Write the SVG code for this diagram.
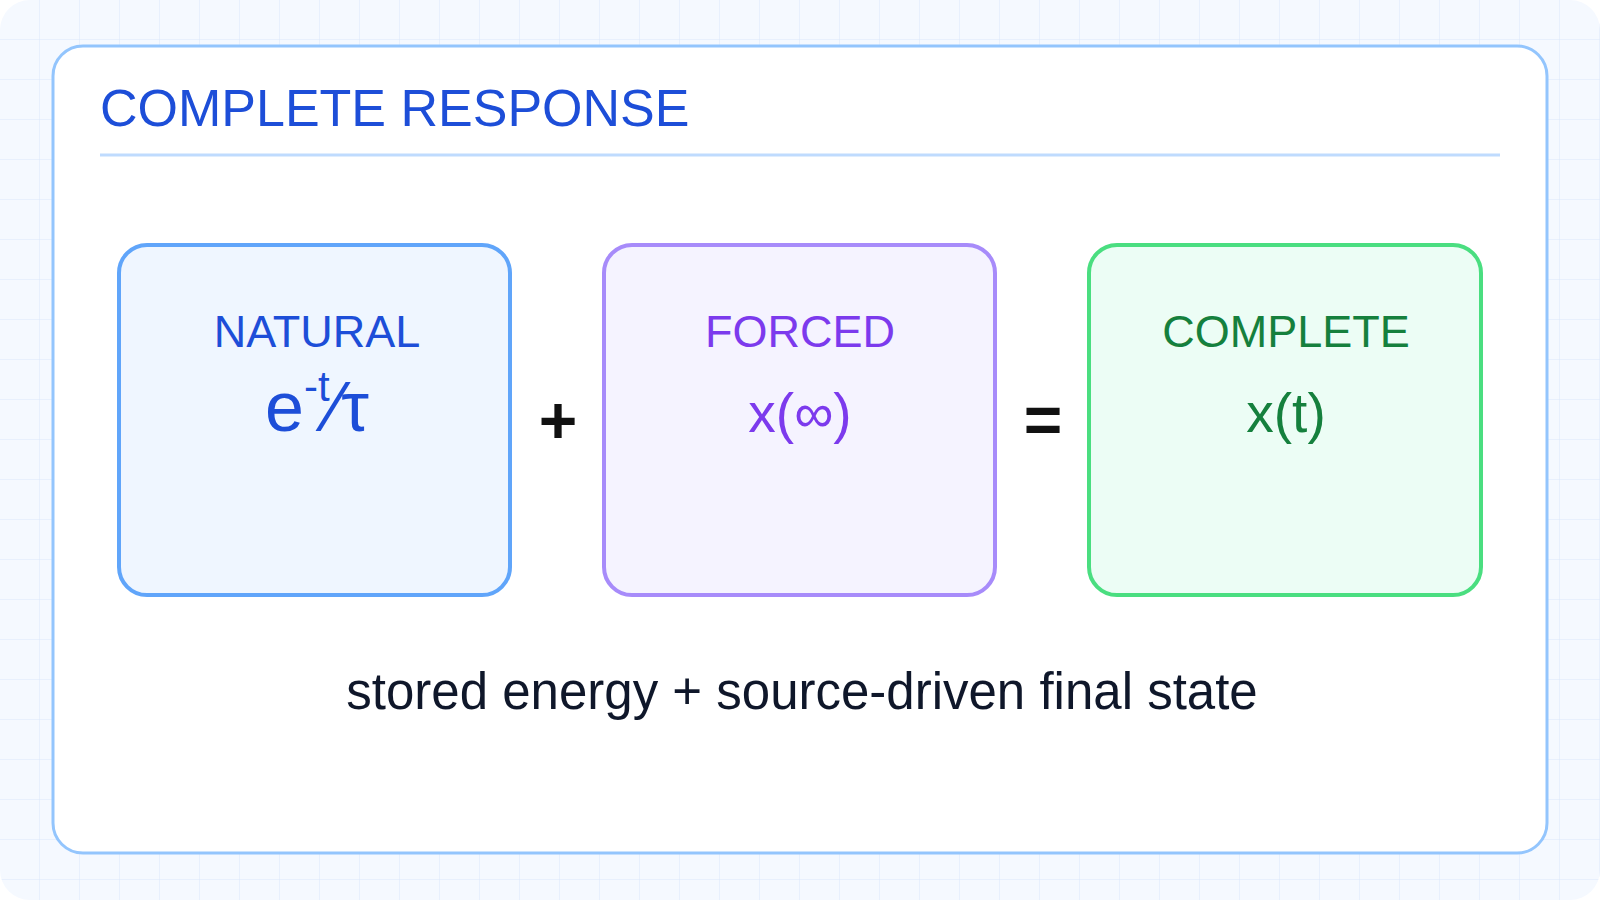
<svg xmlns="http://www.w3.org/2000/svg" width="1600" height="900" viewBox="0 0 1600 900">
<defs>
<pattern id="grid" width="40" height="40" patternUnits="userSpaceOnUse"><path d="M40 0V40H0" fill="none" stroke="#dbe7fb" stroke-width="1"/></pattern>
<style>
text{font-family:"Liberation Sans",Arial,sans-serif}
.lbl{font-size:45px;text-anchor:middle}
.frm{font-size:55px;text-anchor:middle}
.op{font-size:66px;font-weight:bold;text-anchor:middle;fill:#111}
.box{stroke-width:4}
</style>
</defs>
<rect width="1600" height="900" rx="30" fill="#f5f9ff"/>
<rect width="1600" height="900" rx="30" fill="url(#grid)"/>
<g id="panel">
<rect x="53" y="46" width="1494" height="807" rx="30" fill="#fff" stroke="#93c5fd" stroke-width="3"/>
<text x="100" y="126" font-size="52" fill="#1d4ed8">COMPLETE RESPONSE</text>
<line x1="100" y1="155" x2="1500" y2="155" stroke="#bfdbfe" stroke-width="3"/>
</g>
<g id="natural">
<rect class="box" x="119" y="245" width="391" height="350" rx="28" fill="#eff6ff" stroke="#60a5fa"/>
<text class="lbl" x="317" y="347" fill="#1d4ed8">NATURAL</text>
<text x="317" y="431" font-size="70" text-anchor="middle" fill="#1d4ed8">e<tspan font-size="42" dy="-30">-t</tspan><tspan dy="30">⁄τ</tspan></text>
</g>
<g id="forced">
<rect class="box" x="604" y="245" width="391" height="350" rx="28" fill="#f5f3ff" stroke="#a78bfa"/>
<text class="lbl" x="800" y="347" fill="#7c3aed">FORCED</text>
<text class="frm" x="800" y="432" fill="#7c3aed">x(∞)</text>
</g>
<g id="complete">
<rect class="box" x="1089" y="245" width="392" height="350" rx="28" fill="#ecfdf5" stroke="#4ade80"/>
<text class="lbl" x="1286" y="347" fill="#15803d">COMPLETE</text>
<text class="frm" x="1286" y="432" fill="#15803d">x(t)</text>
</g>
<g id="connectors">
<text class="op" x="558" y="443">+</text>
<text class="op" x="1043" y="443">=</text>
</g>
<text x="802" y="709" font-size="51" text-anchor="middle" fill="#0f172a">stored energy + source-driven final state</text>
</svg>
